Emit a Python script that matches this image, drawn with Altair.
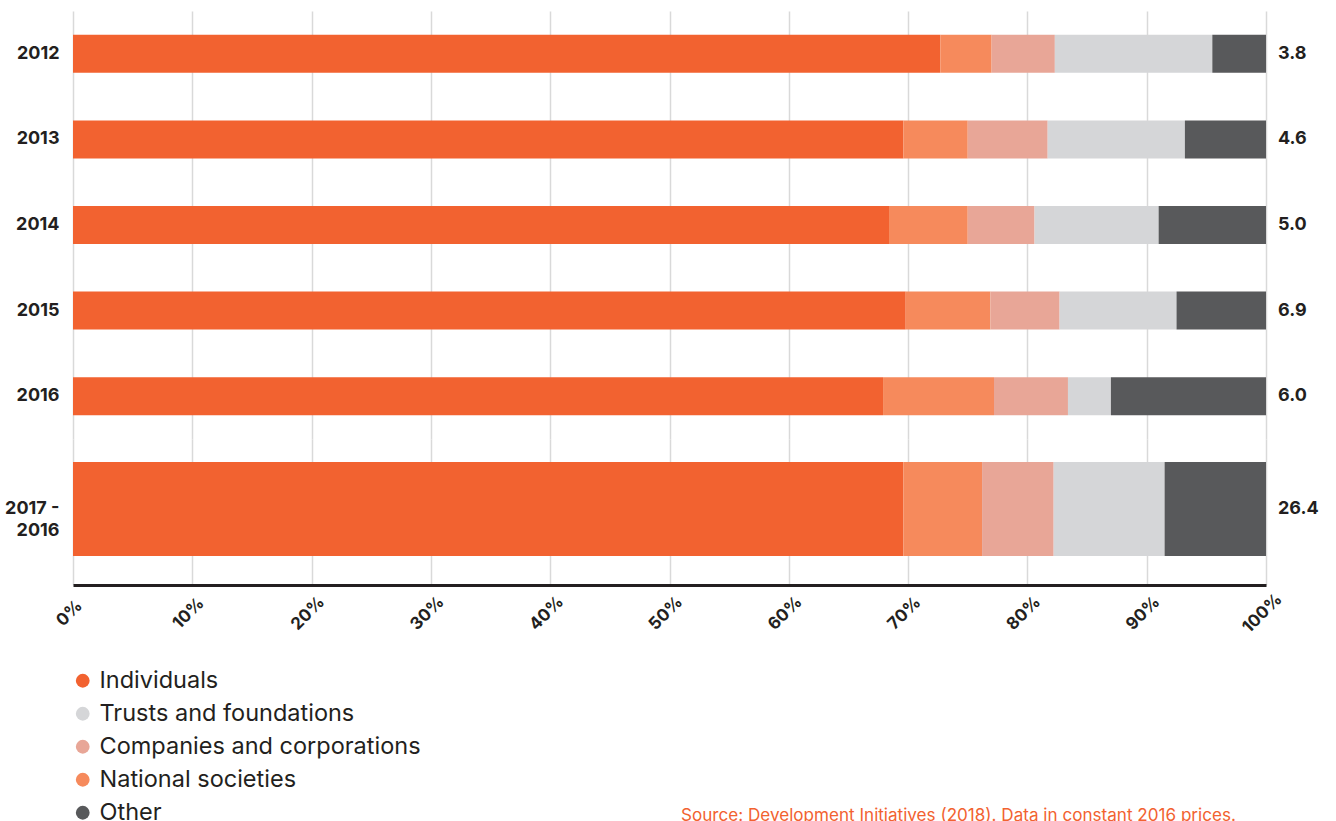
import altair as alt
import pandas as pd

years = ["2012", "2013", "2014", "2015", "2016", "2017 - 2016"]
individuals = [72.7, 69.6, 68.4, 69.8, 67.9, 69.6]
national_societies = [4.3, 5.4, 6.6, 7.1, 9.3, 6.6]
companies = [5.3, 6.7, 5.6, 5.8, 6.2, 6.0]
trusts = [13.2, 11.5, 10.4, 9.8, 3.6, 9.3]
other = [4.5, 6.8, 9.0, 7.5, 13.0, 8.5]
totals = ["3.8", "4.6", "5.0", "6.9", "6.0", "26.4"]

legend_order = ["Individuals", "Trusts and foundations", "Companies and corporations",
                "National societies", "Other"]
stack_order = ["Individuals", "National societies", "Companies and corporations",
               "Trusts and foundations", "Other"]
colors = ["#F26230", "#D5D6D8", "#E8A697", "#F68A5C", "#58595B"]

series = {
    "Individuals": individuals,
    "National societies": national_societies,
    "Companies and corporations": companies,
    "Trusts and foundations": trusts,
    "Other": other,
}
rows = []
for i, y in enumerate(years):
    for k, name in enumerate(stack_order):
        rows.append({"year": y, "source": name, "share": series[name][i], "ord": k})
df = pd.DataFrame(rows)
tot = pd.DataFrame({"year": years, "total": totals})

FONT = "Inter"
color = alt.Color(
    "source:N",
    scale=alt.Scale(domain=legend_order, range=colors),
    legend=alt.Legend(
        title=None, orient="none", legendX=-2, legendY=658, direction="vertical",
        columns=1, symbolType="circle", symbolSize=190, symbolStrokeWidth=0,
        labelFontSize=23.5, labelFont=FONT, labelColor="#231F20", labelLimit=600,
        rowPadding=8, padding=0, labelOffset=5,
    ),
)

def panel(cats, height, bar_size, last):
    d = df[df["year"].isin(cats)]
    t = tot[tot["year"].isin(cats)]
    xaxis = alt.Axis(
        values=[0, 0.1, 0.2, 0.3, 0.4, 0.5, 0.6, 0.7, 0.8, 0.9, 1.0],
        format=".0%", grid=True, gridColor="#D9D9D9", gridWidth=1.5,
        ticks=False, labels=last, domain=last, domainColor="#231F20",
        domainWidth=3, labelAngle=-45, labelAlign="center", labelBaseline="middle",
        labelPadding=28, labelOffset=-4, labelFontSize=17, labelFont=FONT,
        labelFontWeight="bold", labelColor="#231F20", title=None,
    )
    yscale = alt.Scale(domain=cats, paddingInner=0, paddingOuter=0)
    if last:
        yscale = alt.Scale(domain=cats, paddingInner=0, paddingOuter=0.2766, align=0.44)
    yaxis = alt.Axis(
        title=None, ticks=False, domain=False, grid=False, labelFontSize=18,
        labelFont=FONT, labelFontWeight="bold", labelColor="#231F20", labelPadding=14,
        labelExpr="split(datum.label, '- ')[1] ? [split(datum.label, ' - ')[0] + ' -', split(datum.label, ' - ')[1]] : datum.label",
        labelLineHeight=22,
    )
    bars = alt.Chart(d).mark_bar(size=bar_size).encode(
        x=alt.X("share:Q", stack="normalize", axis=xaxis,
                scale=alt.Scale(domain=[0, 1], nice=False)),
        y=alt.Y("year:N", sort=cats, scale=yscale, axis=yaxis),
        color=color,
        order=alt.Order("ord:Q", sort="ascending"),
    )
    labels = alt.Chart(t).mark_text(
        align="left", baseline="middle", dx=12, fontSize=18, font=FONT,
        fontWeight="bold", color="#231F20",
    ).encode(
        x=alt.value(1193),
        y=alt.Y("year:N", sort=cats),
        text="total:N",
    )
    layers = [bars, labels]
    if last:
        src = alt.Chart(t.head(1)).mark_text(
            align="left", baseline="middle", fontSize=17.1, font=FONT,
            color="#F26230",
        ).encode(
            x=alt.value(608), y=alt.value(377),
            text=alt.value("Source: Development Initiatives (2018). Data in constant 2016 prices."),
        )
        layers.append(src)
    return alt.layer(*layers).properties(width=1193, height=height)

top = panel(years[:5], 428, 38, False)
bottom = panel(years[5:], 146, 94, True)

chart = alt.vconcat(top, bottom, spacing=0).properties(
    padding={"left": 4, "top": 11, "right": 5, "bottom": 5}
).configure(font=FONT).configure_view(stroke="transparent", strokeWidth=0)

chart.save("out.html", embed_options={"renderer": "svg", "actions": False})
